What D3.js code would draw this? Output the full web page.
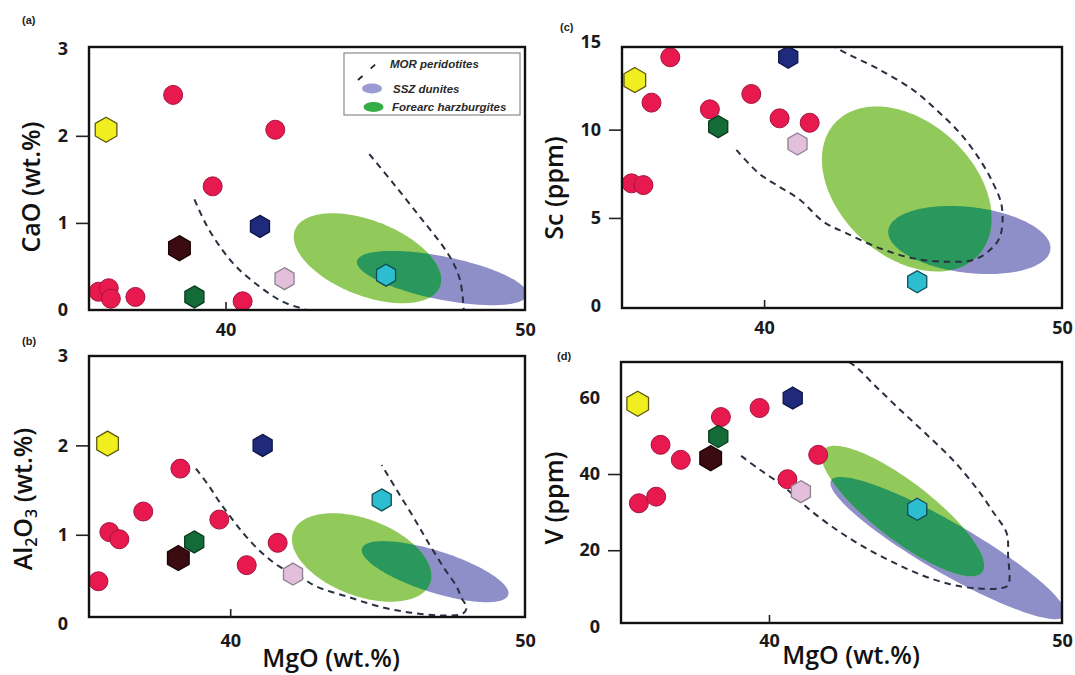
<!DOCTYPE html>
<html><head><meta charset="utf-8">
<script src="https://cdn.jsdelivr.net/npm/d3@7"></script>
<style>
body{margin:0;background:#fff;}
svg{display:block;}
</style></head><body>
<svg id="chart" width="1075" height="675"></svg>
<script>
// ================= DATA =================
const xTickValues = [40, 50];
const yTicksCaO = [0, 1, 2, 3];
const yTicksAl2O3 = [0, 1, 2, 3];
const yTicksSc = [0, 5, 10, 15];
const yTicksV = [0, 20, 40, 60];
const panelLetters = ["(a)", "(b)", "(c)", "(d)"];
const xTitle = "MgO (wt.%)";
const legendLabels = ["MOR peridotites", "SSZ dunites", "Forearc harzburgites"];

// Red circles: [MgO, value]
const redCaO   = [[35.76,0.21],[36.10,0.25],[36.17,0.13],[36.99,0.15],[38.25,2.47],[39.57,1.42],[40.57,0.10],[41.66,2.07]];
const redAl2O3 = [[35.53,0.48],[35.90,1.03],[36.24,0.95],[37.05,1.26],[38.31,1.74],[39.63,1.17],[40.56,0.66],[41.61,0.91]];
const redSc    = [[35.55,6.96],[35.95,6.86],[36.22,11.53],[36.85,14.10],[38.18,11.15],[39.57,12.02],[40.52,10.64],[41.53,10.39]];
const redV     = [[35.56,32.32],[36.15,34.06],[36.30,47.66],[36.99,43.72],[38.36,54.95],[39.68,57.32],[40.63,38.64],[41.68,45.03]];

// Hexagon samples (drawing order), [MgO, value] per panel
const hexSamples = ["yellow", "navy", "darkGreen", "maroon", "lightPink", "cyan"];
const hexCaO   = [[36.01,2.07],[41.15,0.96],[38.96,0.15],[38.46,0.71],[41.97,0.36],[45.36,0.40]];
const hexAl2O3 = [[35.84,2.02],[41.10,2.00],[38.78,0.92],[38.24,0.74],[42.13,0.56],[45.14,1.39]];
const hexSc    = [[35.66,12.81],[40.81,14.10],[38.46,10.17],null,[41.12,9.19],[45.14,1.39]];
const hexV     = [[35.52,58.45],[40.81,59.95],[38.27,49.85],[38.01,44.16],[41.09,35.37],[45.06,30.74]];

// Fields as ellipses: [centre, end of one semi-axis, end of the conjugate semi-axis] in data units
const sszCaO       = [[47.23,0.367],[50.07,0.172],[47.09,0.124]];
const forearcCaO   = [[44.74,0.594],[47.16,0.268],[44.28,0.193]];
const sszAl2O3     = [[46.95,0.587],[49.43,0.326],[46.73,0.366]];
const forearcAl2O3 = [[44.46,0.746],[46.78,0.457],[44.00,0.344]];
const sszSc        = [[46.89,3.75],[49.61,3.21],[46.76,1.90]];
const forearcSc    = [[44.79,6.64],[47.20,2.90],[46.31,9.44]];
const sszV         = [[46.11,20.56],[50.10,2.79],[45.68,14.85]];
const forearcV     = [[44.57,30.29],[47.28,14.27],[43.97,24.24]];

// MOR peridotite field outlines (dashed)
const morCaO = [
  [[38.96,1.27],[39.36,0.976],[39.85,0.71],[40.35,0.50],[41.13,0.27],[41.91,0.095],[42.69,0.0],[43.0,-0.05]],
  [[44.80,1.79],[45.60,1.455],[46.49,1.07],[47.27,0.727],[47.61,0.536],[47.83,0.344],[47.94,0.077],[47.96,-0.05]]
];
const morAl2O3 = [[
  [38.84,1.74],[39.29,1.54],[39.63,1.37],[40.08,1.17],[40.54,0.98],[41.10,0.79],[41.69,0.64],[42.37,0.53],
  [42.93,0.42],[43.95,0.31],[45.08,0.195],[46.21,0.125],[47.29,0.097],[47.90,0.12],[48.02,0.19],
  [47.85,0.29],[47.68,0.42],[47.23,0.64],[46.67,0.94],[46.21,1.20],[45.65,1.50],[45.14,1.78]
]];
const morSc = [[
  [39.07,8.85],[39.82,7.53],[40.53,6.75],[41.21,6.02],[41.99,4.79],[42.77,4.13],[43.89,3.28],[45.01,2.71],
  [46.13,2.52],[47.02,2.62],[47.58,3.18],[47.92,3.94],[47.98,5.64],[47.69,6.96],[47.25,8.28],[46.58,9.79],
  [45.79,11.11],[45.01,12.24],[43.89,13.38],[42.77,14.32],[42.31,14.74]
]];
const morV = [[
  [39.05,44.77],[39.65,41.35],[40.48,36.87],[41.40,30.56],[42.42,24.77],[43.31,20.56],[44.23,16.87],[45.22,13.45],
  [46.18,11.08],[47.03,10.03],[47.89,10.03],[48.16,10.82],[48.16,18.72],[48.11,24.51],[47.65,30.03],[47.13,35.82],
  [46.32,43.32],[45.33,50.74],[44.40,57.40],[43.62,63.19],[43.00,67.93],[42.70,69.5]
]];

// ================= LAYOUT / STYLE =================
const panels = [
  {key:"a", x0:89,  x1:525,  y0:47,  y1:310, xDom:[35.44,50], yDom:[0,3.02],    yTicks:yTicksCaO,   red:redCaO,   hex:hexCaO,   ssz:sszCaO,   fore:forearcCaO,   mor:morCaO,
   title:[{t:"CaO (wt.%)"}], titleX:40, titleY:187, xPad:13, letter:panelLetters[0], lx:22, ly:24, xTitle:false, legend:true},
  {key:"b", x0:89,  x1:525,  y0:356, y1:617, xDom:[35.21,50], yDom:[0.08,3.0],  yTicks:yTicksAl2O3, red:redAl2O3, hex:hexAl2O3, ssz:sszAl2O3, fore:forearcAl2O3, mor:morAl2O3,
   title:[{t:"Al"},{t:"2",sub:true},{t:"O"},{t:"3",sub:true},{t:" (wt.%)"}], titleX:32, titleY:499, xPad:17, letter:panelLetters[1], lx:22, ly:345, xTitle:true, xtX:331, xtY:667},
  {key:"c", x0:622, x1:1062, y0:47,  y1:308, xDom:[35.23,50], yDom:[-0.1,14.68], yTicks:yTicksSc,   red:redSc,    hex:hexSc,    ssz:sszSc,    fore:forearcSc,    mor:morSc,
   title:[{t:"Sc (ppm)"}], titleX:563, titleY:188, xPad:13, letter:panelLetters[2], lx:560, ly:31, xTitle:false},
  {key:"d", x0:621, x1:1062, y0:362, y1:623, xDom:[34.95,50], yDom:[0.9,69.4],  yTicks:yTicksV,    red:redV,     hex:hexV,     ssz:sszV,     fore:forearcV,     mor:morV,
   title:[{t:"V (ppm)"}], titleX:563, titleY:498, xPad:11, letter:panelLetters[3], lx:557, ly:360, xTitle:true, xtX:851, xtY:664}
];

const hexStyle = {
  yellow:   {fill:"#f0ee1e", stroke:"#5c5812", r:12.5},
  navy:     {fill:"#1f2a7c", stroke:"#0d1445", r:11},
  maroon:   {fill:"#3a0b10", stroke:"#1a0305", r:12.5},
  darkGreen:{fill:"#136b38", stroke:"#093a1c", r:11},
  lightPink:{fill:"#e3bfdc", stroke:"#8f8290", r:11},
  cyan:     {fill:"#2dbdd0", stroke:"#0f4d55", r:11}
};
const redStyle = {fill:"#e8194f", stroke:"#a3153f", r:9.5};
const colLav = "#8e8ec9", colGreen = "#92c95b", colDark = "#2a975c";
const FONT = "'Open Sans', 'Noto Sans', sans-serif";

const svg = d3.select("#chart");
const defs = svg.append("defs");

function hexPath(R){
  const pts = d3.range(6).map(k => { const a = Math.PI/180*(60*k-90); return [R*Math.cos(a), R*Math.sin(a)]; });
  return "M" + pts.map(p => p.join(",")).join("L") + "Z";
}

function ellipsePath(spec, x, y){
  const C = [x(spec[0][0]), y(spec[0][1])];
  const U = [x(spec[1][0]) - C[0], y(spec[1][1]) - C[1]];
  const V = [x(spec[2][0]) - C[0], y(spec[2][1]) - C[1]];
  const pts = d3.range(0, 2*Math.PI, Math.PI/90).map(t => [C[0] + U[0]*Math.cos(t) + V[0]*Math.sin(t), C[1] + U[1]*Math.cos(t) + V[1]*Math.sin(t)]);
  return d3.line().curve(d3.curveLinearClosed)(pts);
}

panels.forEach(p => {
  const x = d3.scaleLinear().domain(p.xDom).range([p.x0, p.x1]);
  const y = d3.scaleLinear().domain(p.yDom).range([p.y1, p.y0]);
  const g = svg.append("g");

  defs.append("clipPath").attr("id", "plot-" + p.key)
    .append("rect").attr("x", p.x0).attr("y", p.y0).attr("width", p.x1 - p.x0).attr("height", p.y1 - p.y0);
  defs.append("clipPath").attr("id", "ssz-" + p.key)
    .append("path").attr("d", ellipsePath(p.ssz, x, y));

  const plot = g.append("g").attr("clip-path", "url(#plot-" + p.key + ")");
  plot.append("path").attr("d", ellipsePath(p.ssz, x, y)).attr("fill", colLav);
  plot.append("path").attr("d", ellipsePath(p.fore, x, y)).attr("fill", colGreen);
  plot.append("path").attr("d", ellipsePath(p.fore, x, y)).attr("fill", colDark)
    .attr("clip-path", "url(#ssz-" + p.key + ")");

  const line = d3.line().x(d => x(d[0])).y(d => y(d[1])).curve(d3.curveCatmullRom.alpha(0.5));
  plot.selectAll("path.mor").data(p.mor).join("path").attr("class", "mor")
    .attr("d", line).attr("fill", "none").attr("stroke", "#283040")
    .attr("stroke-width", 2).attr("stroke-dasharray", "6.5,5");

  plot.selectAll("circle.red").data(p.red).join("circle").attr("class", "red")
    .attr("cx", d => x(d[0])).attr("cy", d => y(d[1])).attr("r", redStyle.r)
    .attr("fill", redStyle.fill).attr("stroke", redStyle.stroke).attr("stroke-width", 1);

  const hexData = p.hex.map((d, i) => d ? {v: d, s: hexSamples[i]} : null).filter(Boolean);
  plot.selectAll("path.hex").data(hexData).join("path").attr("class", "hex")
    .attr("transform", d => `translate(${x(d.v[0])},${y(d.v[1])})`)
    .attr("d", d => hexPath(hexStyle[d.s].r))
    .attr("fill", d => hexStyle[d.s].fill).attr("stroke", d => hexStyle[d.s].stroke).attr("stroke-width", 1.3);

  // frame
  g.append("rect").attr("x", p.x0).attr("y", p.y0).attr("width", p.x1 - p.x0).attr("height", p.y1 - p.y0)
    .attr("fill", "none").attr("stroke", "#111").attr("stroke-width", 2.4);

  // y axis
  const ya = g.append("g").attr("transform", `translate(${p.x0},0)`)
    .call(d3.axisLeft(y).tickValues(p.yTicks).tickSize(13).tickPadding(8).tickFormat(d3.format("d")));
  ya.select(".domain").remove();
  ya.selectAll(".tick line").attr("stroke", "#222").attr("stroke-width", 1.6)
    .attr("display", (d, i) => (i === 0 || i === p.yTicks.length - 1) ? "none" : null);
  ya.selectAll(".tick text").attr("font-family", FONT).attr("font-size", 18).attr("font-weight", 700).attr("fill", "#1a1a1a");

  // x axis
  const xa = g.append("g").attr("transform", `translate(0,${p.y1})`)
    .call(d3.axisBottom(x).tickValues(xTickValues).tickSize(-8).tickPadding(p.xPad).tickFormat(d3.format("d")));
  xa.select(".domain").remove();
  xa.selectAll(".tick line").attr("stroke", "#222").attr("stroke-width", 1.6)
    .attr("display", (d, i) => i === xTickValues.length - 1 ? "none" : null);
  xa.selectAll(".tick text").attr("font-family", FONT).attr("font-size", 18).attr("font-weight", 700).attr("fill", "#1a1a1a");

  // y title
  const yt = g.append("text").attr("transform", `translate(${p.titleX},${p.titleY}) rotate(-90)`)
    .attr("text-anchor", "middle").attr("font-family", FONT).attr("font-size", 25).attr("font-weight", 600).attr("fill", "#111");
  let prevSub = false;
  p.title.forEach(part => {
    const ts = yt.append("tspan").text(part.t);
    if (part.sub) ts.attr("font-size", 16).attr("dy", 5);
    else if (prevSub) ts.attr("dy", -5);
    prevSub = !!part.sub;
  });

  // x title
  if (p.xTitle) {
    g.append("text").attr("x", p.xtX).attr("y", p.xtY).attr("text-anchor", "middle")
      .attr("font-family", FONT).attr("font-size", 25).attr("font-weight", 600).attr("fill", "#111").text(xTitle);
  }

  // panel letter
  g.append("text").attr("x", p.lx).attr("y", p.ly).attr("font-family", "'Liberation Sans', Arial, sans-serif")
    .attr("font-size", 11).attr("font-weight", 700).attr("fill", "#222").text(p.letter);

  // legend
  if (p.legend) {
    const lg = g.append("g");
    lg.append("rect").attr("x", 344).attr("y", 53).attr("width", 176).attr("height", 62)
      .attr("fill", "#fff").attr("stroke", "#8a8a8a").attr("stroke-width", 1.2);
    lg.append("line").attr("x1", 358).attr("y1", 80).attr("x2", 377).attr("y2", 63)
      .attr("stroke", "#222").attr("stroke-width", 1.8).attr("stroke-dasharray", "6,11");
    lg.append("ellipse").attr("cx", 372).attr("cy", 88.5).attr("rx", 10).attr("ry", 5).attr("fill", "#9a9ad4");
    lg.append("ellipse").attr("cx", 373.5).attr("cy", 107).attr("rx", 10).attr("ry", 5).attr("fill", "#35ad46");
    const ly = [67.5, 92.5, 111];
    const lx = [390, 393, 392];
    legendLabels.forEach((t, i) => {
      lg.append("text").attr("x", lx[i]).attr("y", ly[i]).attr("font-family", "'Liberation Sans', Arial, sans-serif")
        .attr("font-size", 11.5).attr("font-weight", 700).attr("font-style", "italic").attr("fill", "#2a2a2a").text(t);
    });
  }
});
</script>
</body></html>
